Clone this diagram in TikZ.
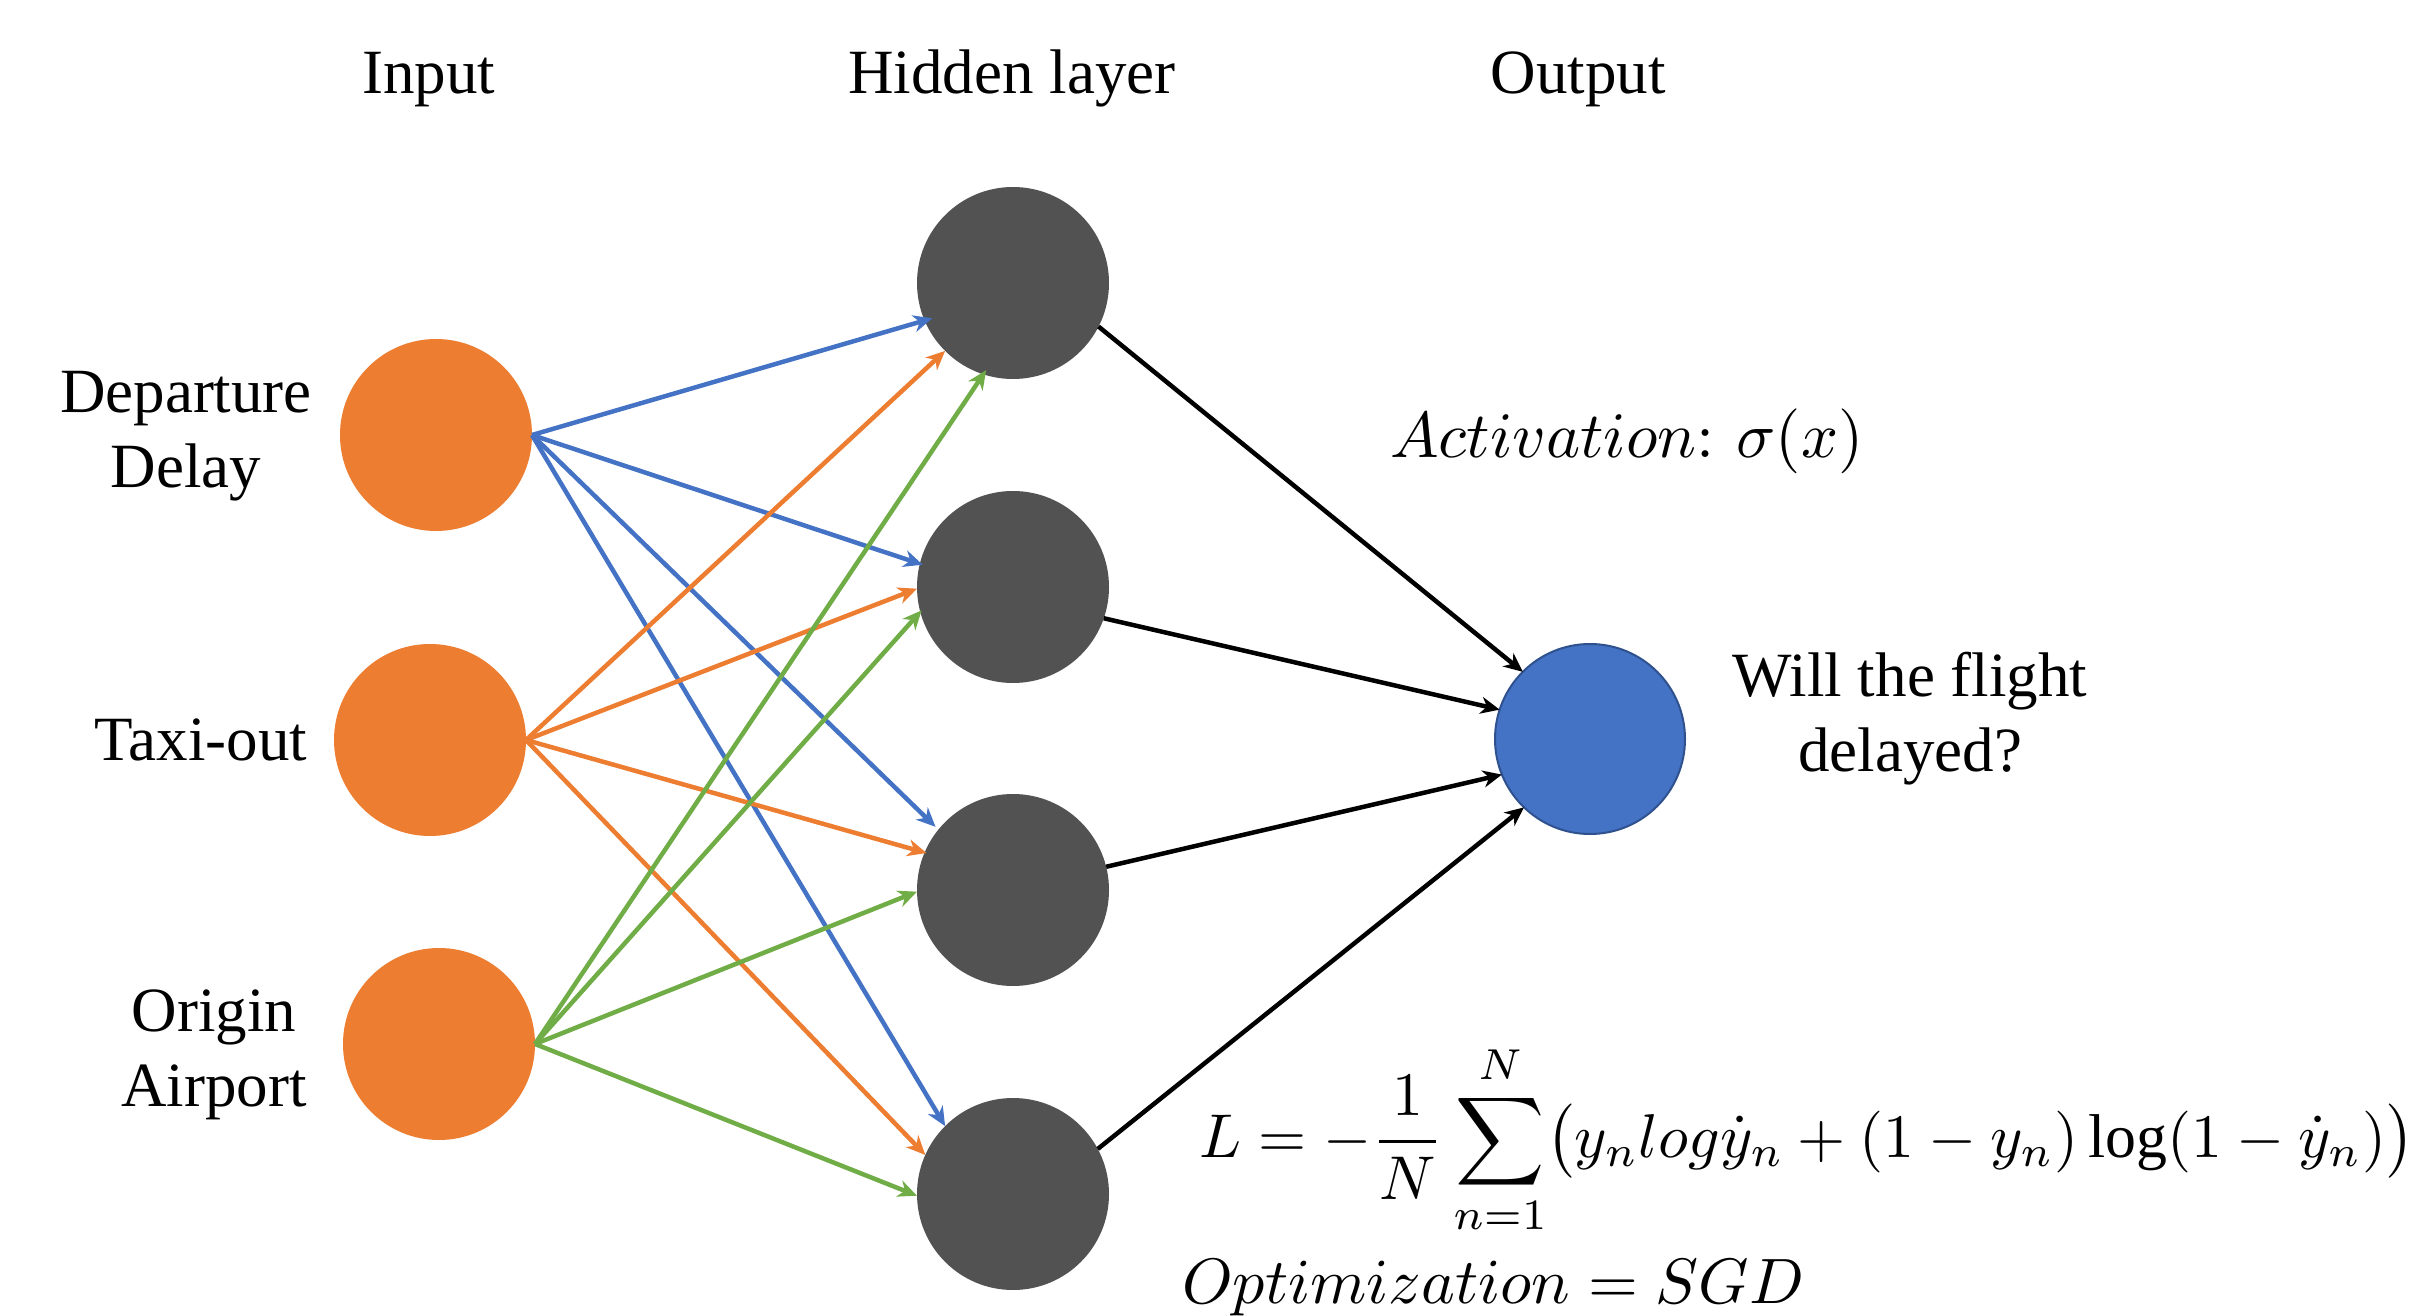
\documentclass[tikz,border=0pt]{standalone}
\usepackage{fontspec}
\setmainfont{Liberation Serif}
\usepackage{graphicx}
\usetikzlibrary{arrows.meta}
\definecolor{inorange}{HTML}{ED7D31}
\definecolor{hidgray}{HTML}{525252}
\definecolor{outblue}{HTML}{4472C4}
\definecolor{outedge}{HTML}{2F528F}
\definecolor{lineblue}{HTML}{4472C4}
\definecolor{linegreen}{HTML}{70AD47}
\begin{document}
\begin{tikzpicture}[x=1pt,y=-1pt,
  neuron/.style={circle,minimum size=192pt,inner sep=0pt,outer sep=0pt},
  inneuron/.style={neuron,fill=inorange},
  hidneuron/.style={neuron,fill=hidgray},
  outneuron/.style={neuron,fill=outblue,draw=outedge,line width=2pt,minimum size=190pt},
  lbl/.style={font=\fontsize{63}{75}\selectfont,inner sep=0pt,align=center},
  conn/.style={line width=4.5pt,-{Stealth[length=19pt,width=17pt,inset=6pt]}},
  outconn/.style={line width=4.5pt,black,-{Stealth[length=19pt,width=17pt,inset=6pt]}},
]
\useasboundingbox[fill=white] (0,0) rectangle (2418,1316);

% titles
\node[lbl,anchor=base] (tin) at (429,94) {Input};
\node[lbl,anchor=base] (thid) at (1012,94) {Hidden layer};
\node[lbl,anchor=base] (tout) at (1578,94) {Output};

% neurons
\node[inneuron] (i1) at (436,435) {};
\node[inneuron] (i2) at (430,740) {};
\node[inneuron] (i3) at (439,1044) {};
\node[hidneuron] (h1) at (1013,283) {};
\node[hidneuron] (h2) at (1013,587) {};
\node[hidneuron] (h3) at (1013,890) {};
\node[hidneuron] (h4) at (1013,1194) {};
\node[outneuron] (o) at (1590,739) {};

% labels (base anchor = baseline of the last line)
\node[lbl,anchor=base] (l1) at (186,487) {Departure\\Delay};
\node[lbl,anchor=base] (l2) at (201,760) {Taxi-out};
\node[lbl,anchor=base] (l3) at (214,1106) {Origin\\Airport};
\node[lbl,anchor=base] (l4) at (1910,771) {Will the flight\\delayed?};

% input -> hidden
\draw[conn,lineblue,shorten >=-8pt] (i1.east) -- (h1.203);
\draw[conn,lineblue,shorten >=-3pt] (i1.east) -- (h2.166);
\draw[conn,lineblue,shorten >=4pt] (i1.east) -- (h3.141);
\draw[conn,lineblue] (i1.east) -- (h4.135);
\draw[conn,inorange] (i2.east) -- (h1.225);
\draw[conn,inorange] (i2.east) -- (h2.181);
\draw[conn,inorange,shorten >=-2pt] (i2.east) -- (h3.157);
\draw[conn,inorange] (i2.east) -- (h4.156);
\draw[conn,linegreen,shorten >=-5pt] (i3.east) -- (h1.252);
\draw[conn,linegreen,shorten >=-2pt] (i3.east) -- (h2.195);
\draw[conn,linegreen] (i3.east) -- (h3.181);
\draw[conn,linegreen] (i3.east) -- (h4.181);

% hidden -> output
\draw[outconn] (h1.-27) -- (o.135);
\draw[outconn] (h2.-19) -- (o.162);
\draw[outconn] (h3.14) -- (o.202);
\draw[outconn] (h4.28) -- (o.226);

% formulas
\node[inner sep=0pt,anchor=base west] (act) at (1390,457)
  {\resizebox{473pt}{!}{$Activation\colon\,\sigma(x)$}};
\node[inner sep=0pt,anchor=base west] (loss) at (1199,1157)
  {\resizebox{1215pt}{!}{$\displaystyle L=-\frac{1}{N}\sum_{n=1}^{N}\bigl(y_n log\dot{y}_n+(1-y_n)\log(1-\dot{y}_n)\bigr)$}};
\node[inner sep=0pt,anchor=base west] (opt) at (1182,1303)
  {\resizebox{622pt}{!}{$Optimization=SGD$}};
\end{tikzpicture}
\end{document}
